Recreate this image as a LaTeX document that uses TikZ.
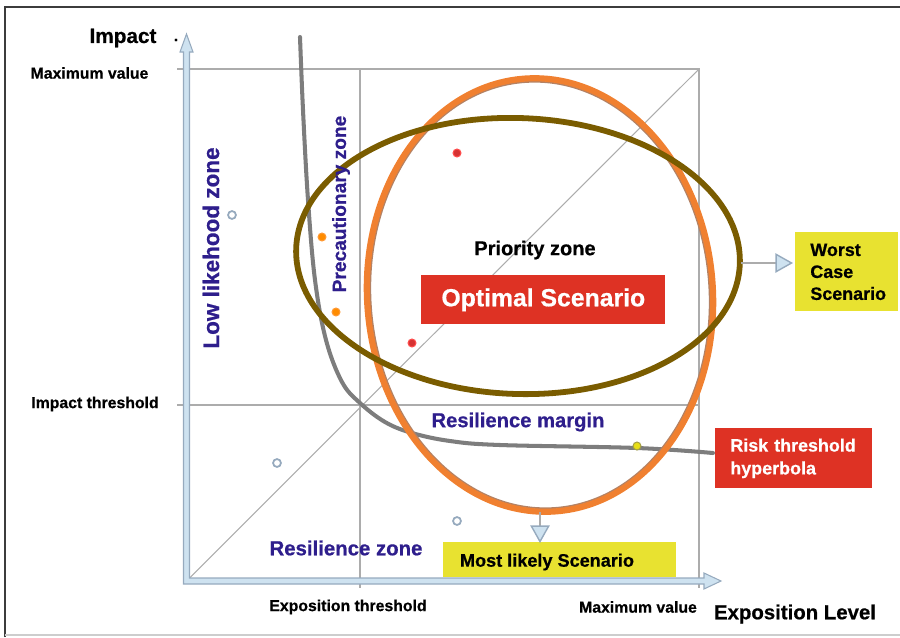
\documentclass[tikz,border=0pt]{standalone}
\usepackage{fontspec}
\setmainfont{Liberation Sans}[BoldFeatures={FakeBold=0.6}]
\usetikzlibrary{arrows.meta}

\definecolor{zoneblue}{RGB}{46,30,140}
\definecolor{boxred}{RGB}{222,50,36}
\definecolor{boxyellow}{RGB}{232,226,48}
\definecolor{ringorange}{RGB}{240,128,48}
\definecolor{ringshadow}{RGB}{180,130,100}
\definecolor{ringbrown}{RGB}{122,92,0}
\definecolor{gridgray}{RGB}{172,172,172}
\definecolor{curvegray}{RGB}{125,125,125}
\definecolor{axisfill}{RGB}{206,226,240}
\definecolor{axisedge}{RGB}{150,170,190}
\definecolor{framegray}{RGB}{60,60,60}

\newcommand{\fsz}[1]{\fontsize{#1}{#1}\selectfont\bfseries}

\begin{document}
\begin{tikzpicture}[x=0.02cm,y=-0.02cm,
  lbl/.style={inner sep=0, text=black, font=\fsz{9}},
  zonelbl/.style={inner sep=0, text=zoneblue},
  gridline/.style={draw=gridgray, line width=0.6pt},
  redbox/.style={fill=boxred, text=white, inner sep=0},
  yellowbox/.style={fill=boxyellow, text=black, inner sep=0},
  dot/.style={circle, inner sep=0, minimum size=4.5pt, line width=0.6pt},
  pointer/.style={draw=gridgray, line width=0.8pt,
    -{Triangle[length=10pt, width=11pt, fill=axisfill, color=axisedge]}},
]
\useasboundingbox (0,0) rectangle (900,637);

% frame
\draw[framegray, line width=1.2pt] (5,637) -- (5,7) -- (900,7);
\draw[gridgray!60, line width=0.8pt] (5,635) -- (900,635);

% key points of the chart
\coordinate (origin) at (186.5,581);
\coordinate (maxcorner) at (699,69);
\coordinate (ymaxL) at (177,69);
\coordinate (ythrL) at (177,405);
\coordinate (ythrR) at (699,405);
\coordinate (xthrT) at (360,69);
\coordinate (xthrB) at (360,588);
\coordinate (xmaxB) at (699,588);

% grid and diagonal
\draw[gridline] (ymaxL) -- (maxcorner) -- (xmaxB);
\draw[gridline] (ythrL) -- (ythrR);
\draw[gridline] (xthrT) -- (xthrB);
\draw[gridline] (origin) -- (maxcorner);

% axes as hollow block arrows
\draw[fill=axisfill, draw=axisedge, line width=0.6pt]
  (183.5,584) -- (183.5,52) -- (180,52) -- (186.5,34) -- (193,52) -- (189.5,52)
  -- (189.5,578) -- (704,578) -- (704,573) -- (721,581) -- (704,589) -- (704,584) -- cycle;

% risk threshold hyperbola
\draw[curvegray, line width=2.3pt, line cap=round] plot[smooth, tension=0.6] coordinates {
  (300,37) (303,110) (308,200) (315,280) (326,340) (342,382) (360,403)
  (385,422) (412,433) (450,441) (500,445) (637,448) (713,453)};

% orange scenario ring with its shadow
\draw[ringshadow, line width=1pt, rotate around={4:(540,295)}]
  (540,295) ellipse [x radius=3.39cm, y radius=4.27cm];
\draw[ringorange, line width=3.5pt, rotate around={4:(540,295)}]
  (540,295) ellipse [x radius=3.46cm, y radius=4.34cm];
\coordinate (orangeB) at (540,512);

% brown priority ring
\draw[ringbrown, line width=3.3pt, rotate around={-2:(518,256)}]
  (518,256) ellipse [x radius=4.44cm, y radius=2.76cm];
\coordinate (brownR) at (741,263);

% sample points
\node[dot, fill=red!80!black!80, draw=red!70] (p1) at (457,153) {};
\node[dot, fill=red!80!black!80, draw=red!70] (p2) at (412,343) {};
\node[dot, fill=orange!90!yellow, draw=orange!80] (p3) at (322,237) {};
\node[dot, fill=orange!90!yellow, draw=orange!80] (p4) at (336,312) {};
\node[dot, fill=white, draw=axisedge, line width=1pt] (p5) at (232,215) {};
\node[dot, fill=white, draw=axisedge, line width=1pt] (p6) at (277,463) {};
\node[dot, fill=white, draw=axisedge, line width=1pt] (p7) at (457,521) {};
\node[dot, fill=yellow!90!black, draw=yellow!60!black] (p8) at (637,446) {};

% axis labels
\node[lbl, font=\fsz{11.8}] (impact) at (123,38) {Impact};
\node[lbl, font=\fsz{9}] (impactdot) at (176,40) {.};
\node[lbl] (ymax) at (89.5,73) {Maximum value};
\node[lbl] (ythr) at (95,404) {Impact threshold};
\node[lbl] (xthr) at (348,607) {Exposition threshold};
\node[lbl] (xmax) at (638,607) {Maximum value};
\node[lbl, font=\fsz{11.6}] (explevel) at (795,614) {Exposition Level};

% zone labels
\node[zonelbl, font=\fsz{12.8}, rotate=90] (lowzone) at (211,248) {Low likehood zone};
\node[zonelbl, font=\fsz{10.9}, rotate=90] (preczone) at (341,204) {Precautionary zone};
\node[lbl, font=\fsz{11.4}] (prio) at (535,250) {Priority zone};
\node[zonelbl, font=\fsz{11.5}] (margin) at (518,422) {Resilience margin};
\node[zonelbl, font=\fsz{11.6}] (reszone) at (346,548) {Resilience zone};

% scenario boxes
\node[redbox, anchor=north west, minimum width=4.88cm, minimum height=0.98cm,
  font=\fsz{14.1}] (optimal) at (421,275) {Optimal Scenario};
\node[yellowbox, anchor=north west, minimum width=4.66cm, minimum height=0.7cm]
  (mostbox) at (443,542) {};
\node[lbl, font=\fsz{10.3}] (mosttext) at (547,562) {Most likely Scenario};
\node[yellowbox, anchor=north west, minimum width=2.06cm, minimum height=1.58cm,
  text width=1.46cm, inner xsep=0.3cm, align=left, font=\fontsize{10.2}{12.5}\selectfont\bfseries]
  (worst) at (795,232) {Worst\\Case\\Scenario};
\node[redbox, anchor=north west, minimum width=3.14cm, minimum height=1.2cm,
  text width=2.54cm, inner xsep=0.3cm, align=left, font=\fontsize{10.2}{13}\selectfont\bfseries]
  (risk) at (715,428) {Risk threshold\\hyperbola};

% pointers to the scenarios
\coordinate (worstin) at (793,263);
\coordinate (mostin) at (540,543);
\draw[pointer] (brownR) -- (worstin);
\draw[pointer] (orangeB) -- (mostin);
\end{tikzpicture}
\end{document}
